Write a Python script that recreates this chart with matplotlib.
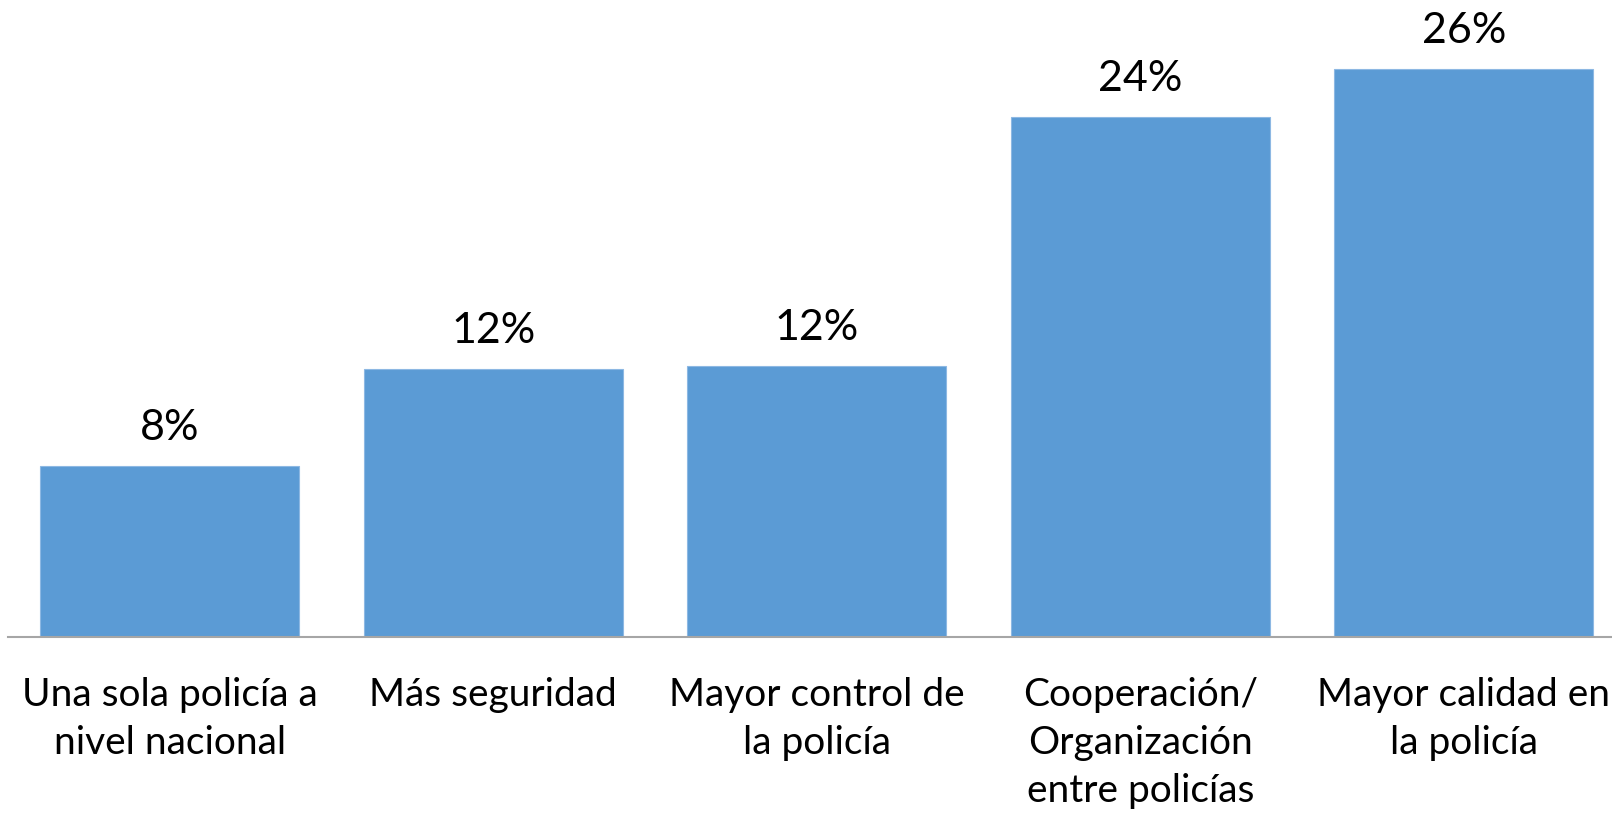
import matplotlib
matplotlib.use("Agg")
import matplotlib.pyplot as plt

categories = ["Una sola policía a\nnivel nacional", "Más seguridad",
              "Mayor control de\nla policía", "Cooperación/\nOrganización\nentre policías",
              "Mayor calidad en\nla policía"]
values = [7.8, 12.25, 12.4, 23.8, 26.0]
labels = ["8%", "12%", "12%", "24%", "26%"]

W, H = 1612, 816
fig = plt.figure(figsize=(W/100, H/100), dpi=100)
base_px = 636.7
ax = fig.add_axes([8/W, 1 - base_px/H, 1 - 8/W, base_px/H])
x = list(range(len(categories)))
ax.bar(x, values, width=0.8, color="#5B9BD5", edgecolor="#8DB8E3", linewidth=0.8)
ax.set_xlim(-0.5, -0.5 + (W - 8) / 323.5)
ax.set_ylim(0, 26.0 * base_px / 567.7)
for xi, v, l in zip(x, values, labels):
    ax.annotate(l, (xi, v), xytext=(0, 14), textcoords="offset points",
                ha="center", va="bottom", fontsize=31, family="Lato", color="black")
ax.set_xticks(x)
ax.set_xticklabels(categories, fontsize=28, family="Lato", linespacing=1.42)
ax.tick_params(axis="x", length=0, pad=29)
ax.set_yticks([])
for s in ["top", "right", "left"]:
    ax.spines[s].set_visible(False)
ax.spines["bottom"].set_color("#A6A6A6")
ax.spines["bottom"].set_linewidth(1.5)
fig.savefig("out.png", dpi=100)
